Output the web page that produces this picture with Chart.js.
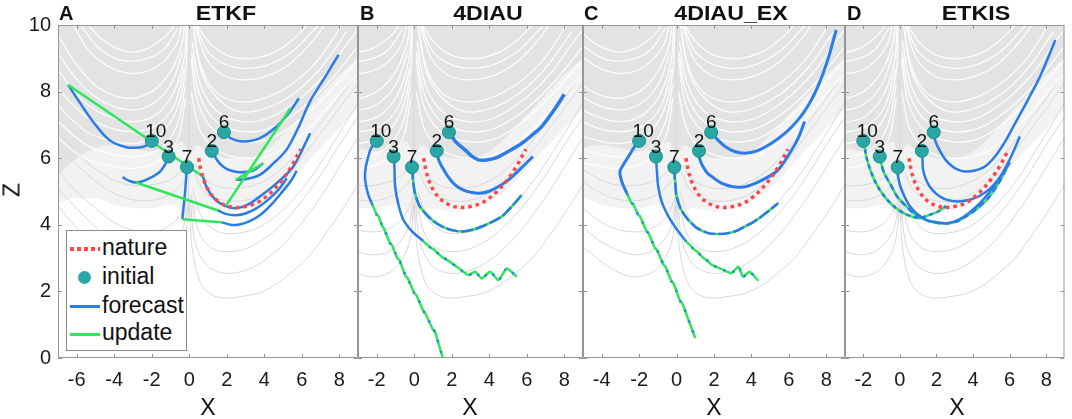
<!DOCTYPE html>
<html>
<head>
<meta charset="utf-8">
<script src="https://cdn.jsdelivr.net/npm/chart.js@4.4.1/dist/chart.umd.min.js"></script>
<style>
  body { margin: 0; background: #fff; }
  #fig { position: relative; width: 1072px; height: 419px; overflow: hidden;
         font-family: "Liberation Sans", Arial, sans-serif; color: #111; }
  #fig canvas { position: absolute; left: 0; top: 0; }
  .ttl { position: absolute; top: 3px; font-weight: bold; font-size: 20px; line-height: 20px;
         white-space: nowrap; transform: translateX(-50%) scaleX(1.16); }
  .let { position: absolute; top: 3px; font-weight: bold; font-size: 20px; line-height: 20px; }
  .xl { position: absolute; top: 396px; font-size: 23px; line-height: 23px; transform: translateX(-50%); }
  .zl { position: absolute; left: 12px; top: 190px; font-size: 23px; line-height: 23px;
        transform: translate(-50%, -50%) rotate(-90deg); }
  #legend { position: absolute; left: 66px; top: 230px; width: 119px; height: 119px;
            border: 1px solid #8c8c8c; background: #fff; }
  .smp { position: absolute; left: 3px; width: 30px; }
  .txt { position: absolute; left: 35px; font-size: 23px; line-height: 23px; white-space: nowrap; }
</style>
</head>
<body>
<div id="fig">
  <canvas id="cA" width="1072" height="419"></canvas>
  <canvas id="cB" width="1072" height="419"></canvas>
  <canvas id="cC" width="1072" height="419"></canvas>
  <canvas id="cD" width="1072" height="419"></canvas>

  <div class="let" style="left:59px">A</div>
  <div class="let" style="left:360px">B</div>
  <div class="let" style="left:584px">C</div>
  <div class="let" style="left:847px">D</div>
  <div class="ttl" style="left:226px">ETKF</div>
  <div class="ttl" style="left:488px">4DIAU</div>
  <div class="ttl" style="left:731px">4DIAU_EX</div>
  <div class="ttl" style="left:976px">ETKIS</div>
  <div class="xl" style="left:208px">X</div>
  <div class="xl" style="left:470px">X</div>
  <div class="xl" style="left:714px">X</div>
  <div class="xl" style="left:957px">X</div>
  <div class="zl">Z</div>

  <div id="legend">
    <div class="smp" style="top:16px;height:4px;background:repeating-linear-gradient(90deg,#ff4545 0 4px,transparent 4px 7px)"></div>
    <div class="txt" style="top:5px">nature</div>
    <div class="smp" style="top:40px;left:11px;width:13px;height:13px;border-radius:50%;background:#2aa7a4"></div>
    <div class="txt" style="top:34px">initial</div>
    <div class="smp" style="top:74px;height:3px;background:#2b7be8"></div>
    <div class="txt" style="top:63px">forecast</div>
    <div class="smp" style="top:102px;height:3px;background:#2ee65a"></div>
    <div class="txt" style="top:90px">update</div>
  </div>
</div>

<script>
// ---- axes ----
var yTicks = [0, 2, 4, 6, 8, 10];
var xRangeA = [-7, 9], xTicksA = [-6, -4, -2, 0, 2, 4, 6, 8];
var xRangeB = [-3, 9], xTicksB = [-2, 0, 2, 4, 6, 8];
var xRangeC = [-5, 9], xTicksC = [-4, -2, 0, 2, 4, 6, 8];
var xRangeD = [-3, 9], xTicksD = [-2, 0, 2, 4, 6, 8];

// ---- initial members and nature run ----
var initialX = [-2.0, -1.1, -0.12, 1.2, 1.85];
var initialZ = [6.52, 6.05, 5.73, 6.22, 6.78];
var initialLabels = ['10', '3', '7', '2', '6'];
var nature = [[0.5,6.0],[0.62,5.65],[0.8,5.3],[1.1,4.97],[1.5,4.72],[2.0,4.57],[2.5,4.52],[3.0,4.55],
              [3.5,4.63],[4.0,4.8],[4.5,5.05],[5.0,5.38],[5.5,5.8],[5.95,6.27]];

// ---- attractor background ----
var bgEdgeX  = [-7.2, -6, -5, -4, -3, -2, -1, -0.4, 0, 0.4, 1, 2, 3, 4, 5, 6, 7, 8, 9.2];
var bgLightZ = [4.6, 4.8, 4.8, 4.6, 4.5, 4.5, 4.6, 4.4, 4.1, 4.4, 4.5, 4.4, 4.5, 4.7, 5.1, 5.7, 6.3, 6.9, 7.6];
var bgDenseZ = [5.4, 6.0, 6.3, 6.4, 6.3, 6.2, 6.3, 6.5, 6.1, 6.4, 6.2, 6.0, 6.0, 6.2, 6.7, 7.3, 7.9, 8.5, 9.1];
var bgWhite = [
  [[0.4,10],[1.2,9.4],[2.2,9.05],[3.4,9.0],[4.6,9.2],[5.6,9.6],[6.3,10]],
  [[0.35,10],[1.0,9.2],[2.0,8.8],[3.2,8.7],[4.4,8.85],[5.6,9.25],[6.9,10]],
  [[0.3,10],[0.9,9.0],[1.8,8.5],[3.0,8.35],[4.3,8.5],[5.5,8.9],[6.7,9.6],[7.2,10]],
  [[0.2,10],[0.6,8.8],[1.4,8.0],[2.6,7.7],[4.0,7.8],[5.4,8.2],[6.8,8.9],[7.8,9.7],[8.1,10]],
  [[0.25,9.8],[0.7,8.5],[1.6,7.75],[2.7,7.4],[4.1,7.5],[5.6,7.95],[7.0,8.7],[8.4,9.8]],
  [[0.15,9.5],[0.6,8.2],[1.5,7.4],[2.8,7.1],[4.2,7.2],[5.7,7.7],[7.2,8.5],[8.5,9.5],[9.2,10]],
  [[0.12,9.2],[0.55,7.9],[1.45,7.1],[2.8,6.8],[4.3,6.9],[5.9,7.45],[7.4,8.25],[9.2,9.5]],
  [[0.1,9.0],[0.5,7.6],[1.4,6.8],[2.8,6.5],[4.4,6.6],[6.0,7.2],[7.5,8.0],[9.2,9.1]],
  [[0.1,8.0],[0.6,6.8],[1.6,6.2],[3.0,6.0],[4.6,6.15],[6.2,6.8],[7.8,7.8],[9.2,8.7]],
  [[-5.4,10],[-4.5,9.5],[-3.3,9.2],[-2.2,9.3],[-1.2,9.7],[-0.8,10]],
  [[-5.8,10],[-4.9,9.35],[-3.7,8.95],[-2.5,8.95],[-1.4,9.25],[-0.6,9.9]],
  [[-6.2,10],[-5.3,9.2],[-4.1,8.7],[-2.8,8.55],[-1.6,8.8],[-0.7,9.4],[-0.4,10]],
  [[-7.2,9.9],[-6.0,8.8],[-4.8,8.1],[-3.3,7.8],[-2.0,8.0],[-1.0,8.6],[-0.4,9.4],[-0.25,10]],
  [[-7.2,9.3],[-5.9,8.3],[-4.6,7.7],[-3.1,7.45],[-1.9,7.65],[-0.95,8.25],[-0.35,9.2]],
  [[-7.2,8.8],[-5.8,7.8],[-4.5,7.3],[-3.0,7.1],[-1.8,7.3],[-0.9,7.9],[-0.3,8.9],[-0.15,10]],
  [[-7.2,8.2],[-5.6,7.3],[-4.2,6.9],[-2.9,6.8],[-1.7,7.0],[-0.8,7.6],[-0.25,8.7]],
  [[-7.2,7.7],[-5.5,6.8],[-4.0,6.5],[-2.8,6.45],[-1.6,6.7],[-0.7,7.4],[-0.2,8.6],[-0.1,10]],
  [[-7.2,7.2],[-5.5,6.4],[-4.0,6.1],[-2.8,6.05],[-1.5,6.3],[-0.65,7.0],[-0.2,8.2]],
  [[-7.2,6.7],[-5.6,6.0],[-4.0,5.75],[-2.8,5.7],[-1.5,5.95],[-0.6,6.6],[-0.2,7.8]]
];
var bgGray = [
  [[0.0,4.6],[0.15,3.3],[0.6,2.25],[1.2,1.9],[1.9,1.8],[2.8,1.85],[3.7,1.95],[4.6,2.2],[5.4,2.55],[6.3,3.0],[7.05,3.55],[7.8,4.15],[8.5,4.75],[9.2,5.4]],
  [[0.05,4.8],[0.3,3.5],[0.9,2.8],[1.8,2.55],[2.8,2.6],[3.8,2.85],[4.9,3.35],[6.0,4.05],[7.2,5.0],[8.3,6.0],[9.2,6.8]],
  [[0.1,4.9],[0.5,3.8],[1.2,3.3],[2.2,3.2],[3.3,3.35],[4.5,3.8],[5.7,4.5],[6.9,5.4],[8.0,6.4],[9.2,7.4]],
  [[0.2,5.0],[0.7,4.2],[1.5,3.8],[2.6,3.75],[3.8,3.95],[5.0,4.45],[6.2,5.2],[7.4,6.2],[8.5,7.2],[9.2,7.9]],
  [[0.25,5.6],[0.8,5.0],[1.7,4.75],[2.8,4.72],[4.0,4.95],[5.2,5.5],[6.4,6.3],[7.6,7.2],[9.2,8.4]],
  [[0.3,5.8],[1.0,5.3],[2.0,5.1],[3.2,5.15],[4.4,5.45],[5.6,6.05],[6.8,6.9],[8.0,7.8],[9.2,8.8]],
  [[0.0,4.6],[-0.3,3.4],[-1.0,2.7],[-1.9,2.45],[-2.8,2.5],[-3.8,2.8],[-4.9,3.3],[-6.0,3.9],[-7.2,4.7]],
  [[0.0,4.8],[-0.4,3.8],[-1.2,3.25],[-2.2,3.1],[-3.2,3.25],[-4.3,3.6],[-5.5,4.2],[-7.2,5.2]],
  [[0.0,4.9],[-0.6,4.2],[-1.5,3.85],[-2.6,3.8],[-3.8,4.0],[-5.0,4.5],[-6.2,5.1],[-7.2,5.8]],
  [[0.0,5.5],[-0.8,5.0],[-1.8,4.75],[-3.0,4.75],[-4.2,5.0],[-5.4,5.5],[-7.2,6.4]],
  [[0.0,5.9],[-0.9,5.4],[-2.0,5.2],[-3.2,5.2],[-4.4,5.45],[-5.7,6.0],[-7.2,6.9]],
  [[-0.05,4.4],[-0.02,7.0],[0.0,10]]
];

// ---- A: ETKF ----
var etkfForecast = [
  [[-1.98,6.52],[-2.3,6.38],[-2.66,6.32],[-3.37,6.33],[-4.27,6.55],[-5.16,7.12],[-6.05,7.85],[-6.45,8.2]],
  [[0.73,5.45],[0.95,5.1],[1.35,4.78],[1.9,4.57],[2.5,4.5],[3.1,4.6],[3.77,4.85],[4.66,5.25],[5.55,5.75],[6.45,6.75]],
  [[-1.12,6.03],[-1.3,5.8],[-1.59,5.58],[-2.3,5.35],[-2.84,5.27],[-3.2,5.32],[-3.56,5.43]],
  [[1.53,4.43],[2.0,4.32],[2.5,4.29],[3.0,4.34],[3.6,4.5],[4.2,4.75],[4.8,5.08],[5.2,5.4]],
  [[-0.13,5.72],[-0.22,5.0],[-0.37,4.17]],
  [[1.71,4.08],[2.2,4.0],[2.6,4.0],[3.2,4.1],[3.8,4.3],[4.4,4.62],[5.0,5.02],[5.4,5.3],[5.73,5.62]],
  [[1.21,6.22],[1.5,5.93],[1.8,5.75],[2.2,5.63],[2.7,5.58],[3.4,5.63],[3.94,5.85]],
  [[1.84,6.77],[2.2,6.6],[2.87,6.5],[3.77,6.6],[4.66,6.95],[5.3,7.35],[5.85,7.8]],
  [[2.48,5.35],[3.0,5.37],[3.76,5.5],[4.5,5.85],[5.18,6.25],[5.8,6.9],[6.44,7.7],[7.2,8.4],[7.96,9.1]]
];
var etkfUpdate = [
  [[-6.45,8.2],[0.73,5.45]],
  [[-2.84,5.27],[1.53,4.43]],
  [[-0.37,4.17],[1.71,4.08]],
  [[3.94,5.85],[2.48,5.35]],
  [[1.95,4.57],[5.4,7.5]]
];

// ---- B: 4DIAU ----
var diauB10Head = [[-2.0,6.52],[-2.3,6.3],[-2.45,6.05],[-2.58,5.75],[-2.63,5.45],[-2.58,5.2],[-2.45,4.9],[-2.27,4.65]];
var diauB10Tail = [[-2.27,4.65],[-2.0,4.3],[-1.92,4.28],[-1.7,3.95],[-1.62,3.9],[-1.3,3.45],[-1.2,3.4],[-0.9,3.0],[-0.8,2.95],
                   [-0.45,2.45],[-0.35,2.4],[0.0,1.95],[0.1,1.9],[0.5,1.4],[0.6,1.33],[1.0,0.85],[1.1,0.8],[1.6,-0.15]];
var diauB3Head = [[-1.08,6.05],[-1.05,5.6],[-1.02,5.15],[-0.85,4.62],[-0.58,4.15],[-0.12,3.8],[0.4,3.55]];
var diauB3Tail = [[0.4,3.55],[0.9,3.3],[1.0,3.28],[1.5,3.02],[1.6,3.0],[2.27,2.74],[2.89,2.49],[3.25,2.59],[3.6,2.39],
                  [4.05,2.59],[4.49,2.34],[4.94,2.69],[5.47,2.44]];
var diauB7 = [[-0.1,5.72],[-0.06,5.3],[0.04,4.95],[0.25,4.6],[0.58,4.35],[1.0,4.12],[1.47,3.95],[2.0,3.84],[2.54,3.8],
              [3.1,3.85],[3.6,3.95],[4.1,4.07],[4.67,4.25],[5.2,4.55],[5.74,4.9]];
var diauB2 = [[1.2,6.22],[1.3,5.95],[1.47,5.75],[1.8,5.45],[2.18,5.2],[2.6,5.05],[3.07,4.97],[3.5,4.95],[3.96,5.0],
              [4.5,5.15],[5.03,5.35],[5.7,5.7],[6.33,6.05]];
var diauB6 = [[1.88,6.77],[2.2,6.5],[2.71,6.25],[3.05,6.07],[3.42,5.95],[3.9,5.95],[4.31,6.0],[5.0,6.2],[5.74,6.45],
              [6.3,6.7],[6.8,6.95],[7.4,7.4],[8.0,7.92]];

// ---- C: 4DIAU_EX ----
var diauC10Head = [[-2.04,6.52],[-2.3,6.3],[-2.57,6.05],[-2.85,5.8],[-3.02,5.62],[-3.0,5.45],[-2.93,5.3],[-2.8,5.12],[-2.66,4.95]];
var diauC10Tail = [[-2.66,4.95],[-2.4,4.65],[-2.32,4.62],[-2.05,4.3],[-1.97,4.27],[-1.6,3.8],[-1.5,3.75],[-1.15,3.3],[-1.05,3.25],
                   [-0.7,2.8],[-0.6,2.75],[-0.27,2.3],[-0.17,2.25],[0.2,1.7],[0.3,1.65],[0.7,1.05],[1.0,0.6]];
var diauC3Head = [[-1.1,6.05],[-1.05,5.6],[-0.98,5.15],[-0.8,4.7],[-0.53,4.35],[-0.1,3.95],[0.44,3.55]];
var diauC3Tail = [[0.44,3.55],[0.95,3.25],[1.05,3.22],[1.5,2.97],[1.6,2.95],[1.88,2.8],[2.4,2.67],[2.94,2.55],[3.3,2.74],
                  [3.56,2.44],[3.9,2.59],[4.36,2.32]];
var diauC7 = [[-0.13,5.72],[-0.08,5.3],[0.0,4.85],[0.25,4.45],[0.62,4.15],[1.1,3.9],[1.68,3.75],[2.2,3.72],[2.77,3.75],
              [3.2,3.82],[3.65,3.95],[4.1,4.08],[4.54,4.25],[5.0,4.45],[5.43,4.65]];
var diauC2 = [[1.15,6.22],[1.25,5.95],[1.41,5.75],[1.65,5.55],[1.88,5.45],[2.4,5.25],[2.94,5.15],[3.5,5.13],[4.0,5.2],
              [4.7,5.38],[5.43,5.65],[6.1,6.2],[6.5,6.6],[6.84,7.1]];
var diauC6 = [[1.88,6.77],[2.2,6.55],[2.59,6.35],[3.1,6.2],[3.65,6.15],[4.3,6.22],[5.07,6.45],[5.8,6.75],[6.49,7.15],
              [7.05,7.6],[7.55,8.15],[8.05,8.9],[8.53,9.85]];

// ---- D: ETKIS ----
var etkisD10 = [[-2.02,6.5],[-1.9,6.25],[-1.84,6.05],[-1.65,5.7],[-1.4,5.35],[-1.1,5.05],[-0.69,4.75],[-0.25,4.52],[0.2,4.35],
                [0.65,4.25],[1.09,4.2],[1.63,4.3],[2.1,4.4],[2.52,4.56]];
var etkisD3 = [[-1.08,6.05],[-1.0,5.8],[-0.86,5.55],[-0.5,5.2],[-0.15,4.85],[0.3,4.58],[0.74,4.35],[1.2,4.2],[1.63,4.1],
               [2.15,4.05],[2.7,4.05],[3.2,4.12],[3.76,4.3],[4.3,4.52],[4.83,4.8],[5.4,5.25],[6.0,5.87]];
var etkisD7 = [[-0.15,5.72],[-0.1,5.45],[0.03,5.15],[0.25,4.85],[0.56,4.55],[1.0,4.3],[1.45,4.15],[2.0,4.08],[2.6,4.05],
               [3.2,4.15],[3.76,4.35],[4.5,4.72],[5.2,5.2],[6.0,5.87]];
var etkisD2 = [[1.22,6.2],[1.24,5.9],[1.27,5.65],[1.4,5.4],[1.63,5.15],[1.95,4.95],[2.34,4.8],[2.8,4.72],[3.23,4.7],
               [3.8,4.75],[4.3,4.85],[4.85,5.05],[5.37,5.35],[5.95,5.9],[6.56,6.65]];
var etkisD6 = [[1.84,6.77],[1.95,6.5],[2.16,6.25],[2.5,5.95],[2.87,5.75],[3.2,5.65],[3.58,5.6],[4.1,5.63],[4.65,5.75],
               [5.2,6.05],[5.75,6.5],[6.3,7.05],[7.0,7.75],[7.7,8.5],[8.5,9.55]];

// ---- colours ----
var BLUE = '#2b7be8', GREEN = '#2ee65a', RED = '#ff4545', TEAL = '#2aa7a4';

function pts(a) { return a.map(function (p) { return { x: p[0], y: p[1] }; }); }

function line(a, color, width, extra) {
  var ds = { data: pts(a), borderColor: color, borderWidth: width, pointRadius: 0,
             fill: false, tension: 0.35, order: 3 };
  for (var k in extra) ds[k] = extra[k];
  return ds;
}

// green update underneath, blue forecast dashes on top
function mixed(a, dash) {
  return [
    line(a, GREEN, 2.5, { tension: 0.2, order: 4 }),
    line(a, BLUE, 2.5, { tension: 0.2, order: 3, borderDash: dash })
  ];
}

function background() {
  var light = bgEdgeX.map(function (x, i) { return [x, bgLightZ[i]]; });
  var dense = bgEdgeX.map(function (x, i) { return [x, bgDenseZ[i]]; });
  var sets = [
    line(light, 'rgba(0,0,0,0)', 0, { fill: 'end', backgroundColor: '#f2f2f2', order: 20, cubicInterpolationMode: 'monotone' }),
    line(dense, 'rgba(0,0,0,0)', 0, { fill: 'end', backgroundColor: '#e3e3e3', order: 19, cubicInterpolationMode: 'monotone' })
  ];
  bgGray.forEach(function (c) { sets.push(line(c, '#d9d9d9', 1, { order: 18 })); });
  bgWhite.forEach(function (c) { sets.push(line(c, 'rgba(255,255,255,0.9)', 1.3, { order: 17 })); });
  return sets;
}

function common() {
  var initial = initialX.map(function (x, i) { return [x, initialZ[i]]; });
  return [
    line(nature, RED, 3.5, { borderDash: [3.5, 4], order: 1 }),
    { data: pts(initial), showLine: false, pointRadius: 6.5, pointBackgroundColor: TEAL,
      pointBorderColor: '#1f8e8b', pointBorderWidth: 1, order: 0 }
  ];
}

var labelPlugin = {
  id: 'initLabels',
  afterDatasetsDraw: function (chart) {
    var ctx = chart.ctx, x = chart.scales.x, y = chart.scales.y;
    ctx.save();
    ctx.font = '19px "Liberation Sans", Arial, sans-serif';
    ctx.fillStyle = '#111';
    ctx.textAlign = 'center';
    ctx.textBaseline = 'middle';
    initialLabels.forEach(function (t, i) {
      ctx.fillText(t, x.getPixelForValue(initialX[i]) + (t.length > 1 ? 4 : 0),
                   y.getPixelForValue(initialZ[i]) - 9);
    });
    ctx.restore();
  }
};

// MATLAB style box with inward ticks
var framePlugin = {
  id: 'frame',
  afterDraw: function (chart, args, opts) {
    var ctx = chart.ctx, a = chart.chartArea, x = chart.scales.x, y = chart.scales.y;
    var xt = opts.xTicks || [];
    ctx.save();
    ctx.strokeStyle = '#959595';
    ctx.lineWidth = 1;
    ctx.beginPath();
    ctx.rect(a.left + 0.5, a.top + 0.5, a.right - a.left - 1, a.bottom - a.top - 1);
    xt.forEach(function (v) {
      var p = Math.round(x.getPixelForValue(v)) + 0.5;
      ctx.moveTo(p, a.bottom); ctx.lineTo(p, a.bottom - 4);
      ctx.moveTo(p, a.top); ctx.lineTo(p, a.top + 4);
    });
    yTicks.forEach(function (v) {
      var p = Math.round(y.getPixelForValue(v)) + 0.5;
      ctx.moveTo(a.left, p); ctx.lineTo(a.left + 4, p);
      ctx.moveTo(a.right, p); ctx.lineTo(a.right - 4, p);
    });
    ctx.stroke();
    ctx.restore();
  }
};

function panel(id, xRange, xTicks, left, right, showY, datasets) {
  return new Chart(document.getElementById(id), {
    type: 'line',
    data: { datasets: background().concat(datasets, common()) },
    options: {
      responsive: false,
      animation: false,
      events: [],
      layout: { padding: { top: 25, bottom: 0, left: showY ? 0 : left, right: 1072 - right } },
      plugins: { legend: { display: false }, tooltip: { enabled: false }, frame: { xTicks: xTicks } },
      scales: {
        x: {
          type: 'linear', min: xRange[0], max: xRange[1],
          grid: { display: false, drawTicks: false }, border: { display: false },
          afterBuildTicks: function (s) { s.ticks = xTicks.map(function (v) { return { value: v }; }); },
          afterFit: function (s) { s.height = 61; },
          ticks: { autoSkip: false, maxRotation: 0, padding: 10, color: '#1a1a1a',
                   font: { family: '"Liberation Sans", Arial, sans-serif', size: 20 } }
        },
        y: {
          type: 'linear', min: 0, max: 10, display: showY,
          grid: { display: false, drawTicks: false }, border: { display: false },
          afterBuildTicks: function (s) { s.ticks = yTicks.map(function (v) { return { value: v }; }); },
          afterFit: function (s) { s.width = showY ? left : 0; },
          ticks: { padding: 7, color: '#1a1a1a',
                   font: { family: '"Liberation Sans", Arial, sans-serif', size: 20 } }
        }
      }
    },
    plugins: [labelPlugin, framePlugin]
  });
}

// A
var dsA = [];
etkfForecast.forEach(function (c) { dsA.push(line(c, BLUE, 2.5, { order: 3 })); });
etkfUpdate.forEach(function (c) { dsA.push(line(c, GREEN, 2.5, { order: 2, tension: 0 })); });
panel('cA', xRangeA, xTicksA, 58, 358, true, dsA);

// B
var dsB = [].concat(
  [line(diauB10Head, BLUE, 2.5)], mixed(diauB10Tail, [2, 9]),
  [line(diauB3Head, BLUE, 2.5)], mixed(diauB3Tail, [2, 8]),
  mixed(diauB7, [12, 3]),
  [line(diauB2, BLUE, 3), line(diauB6, BLUE, 3.5)]
);
panel('cB', xRangeB, xTicksB, 358, 583, false, dsB);

// C
var dsC = [].concat(
  [line(diauC10Head, BLUE, 3)], mixed(diauC10Tail, [2, 9]),
  [line(diauC3Head, BLUE, 2.5)], mixed(diauC3Tail, [2, 8]),
  mixed(diauC7, [12, 3]),
  [line(diauC2, BLUE, 3), line(diauC6, BLUE, 3)]
);
panel('cC', xRangeC, xTicksC, 583, 845, false, dsC);

// D
var dsD = [].concat(
  mixed(etkisD10, [4, 4]), mixed(etkisD3, [6, 4]),
  [line(etkisD7, BLUE, 2.5), line(etkisD2, BLUE, 2.5), line(etkisD6, BLUE, 2.5)]
);
panel('cD', xRangeD, xTicksD, 845, 1069, false, dsD);
</script>
</body>
</html>
